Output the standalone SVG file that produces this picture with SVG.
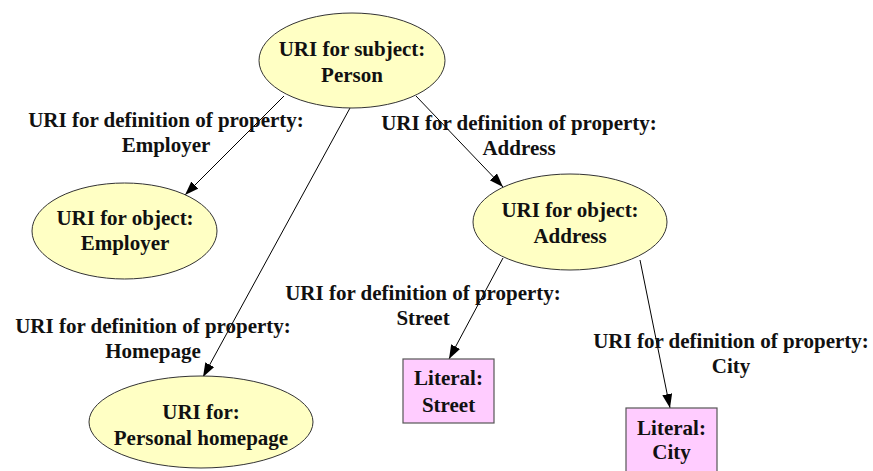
<svg xmlns="http://www.w3.org/2000/svg" width="873" height="471" viewBox="0 0 873 471">
  <style>
    text { font-family: "Liberation Serif", serif; font-weight: 700; font-size: 21px; fill: #111; text-anchor: middle; }
    .uri { fill: #ffffc4; stroke: #333; stroke-width: 1; }
    .lit { fill: #ffccff; stroke: #555; stroke-width: 1.2; }
    .edge { stroke: #000; stroke-width: 1; fill: none; marker-end: url(#arrow); }
  </style>
  <defs>
    <marker id="arrow" markerUnits="userSpaceOnUse" markerWidth="15" markerHeight="11" refX="14" refY="5" orient="auto">
      <path d="M0,0 L14,5 L0,10 z" fill="#000"/>
    </marker>
  </defs>
  <rect width="873" height="471" fill="#fff"/>

  <!-- arrows between the resources -->
  <g id="connectors">
    <line class="edge" x1="284" y1="96" x2="185" y2="195"/>
    <line class="edge" x1="350" y1="108" x2="203" y2="377"/>
    <line class="edge" x1="416" y1="96" x2="503" y2="187"/>
    <line class="edge" x1="503" y1="258" x2="449" y2="359"/>
    <line class="edge" x1="640" y1="260" x2="670" y2="408"/>
  </g>

  <!-- property labels -->
  <g id="edge-labels">
    <text x="166" y="127">URI for definition of property:</text>
    <text x="166" y="152">Employer</text>
    <text x="153" y="333">URI for definition of property:</text>
    <text x="153" y="358">Homepage</text>
    <text x="519" y="130">URI for definition of property:</text>
    <text x="519" y="155">Address</text>
    <text x="423" y="300">URI for definition of property:</text>
    <text x="423" y="325">Street</text>
    <text x="731" y="348">URI for definition of property:</text>
    <text x="731" y="373">City</text>
  </g>

  <g id="person">
    <ellipse class="uri" cx="352" cy="60.5" rx="93" ry="47.5"/>
    <text x="352" y="56">URI for subject:</text>
    <text x="352" y="82">Person</text>
  </g>

  <g id="employer">
    <ellipse class="uri" cx="124.5" cy="231" rx="92.5" ry="48"/>
    <text x="125" y="225">URI for object:</text>
    <text x="125" y="250">Employer</text>
  </g>

  <g id="address">
    <ellipse class="uri" cx="570" cy="222" rx="97" ry="48"/>
    <text x="570" y="217">URI for object:</text>
    <text x="570" y="243">Address</text>
  </g>

  <g id="homepage">
    <ellipse class="uri" cx="201" cy="422" rx="112" ry="46"/>
    <text x="201" y="419">URI for:</text>
    <text x="201" y="445">Personal homepage</text>
  </g>

  <g id="street">
    <rect class="lit" x="403" y="359" width="91" height="64"/>
    <text x="448.5" y="385">Literal:</text>
    <text x="448.5" y="412">Street</text>
  </g>

  <g id="city">
    <rect class="lit" x="626" y="408" width="91" height="64"/>
    <text x="671.5" y="435">Literal:</text>
    <text x="671.5" y="459">City</text>
  </g>
</svg>
